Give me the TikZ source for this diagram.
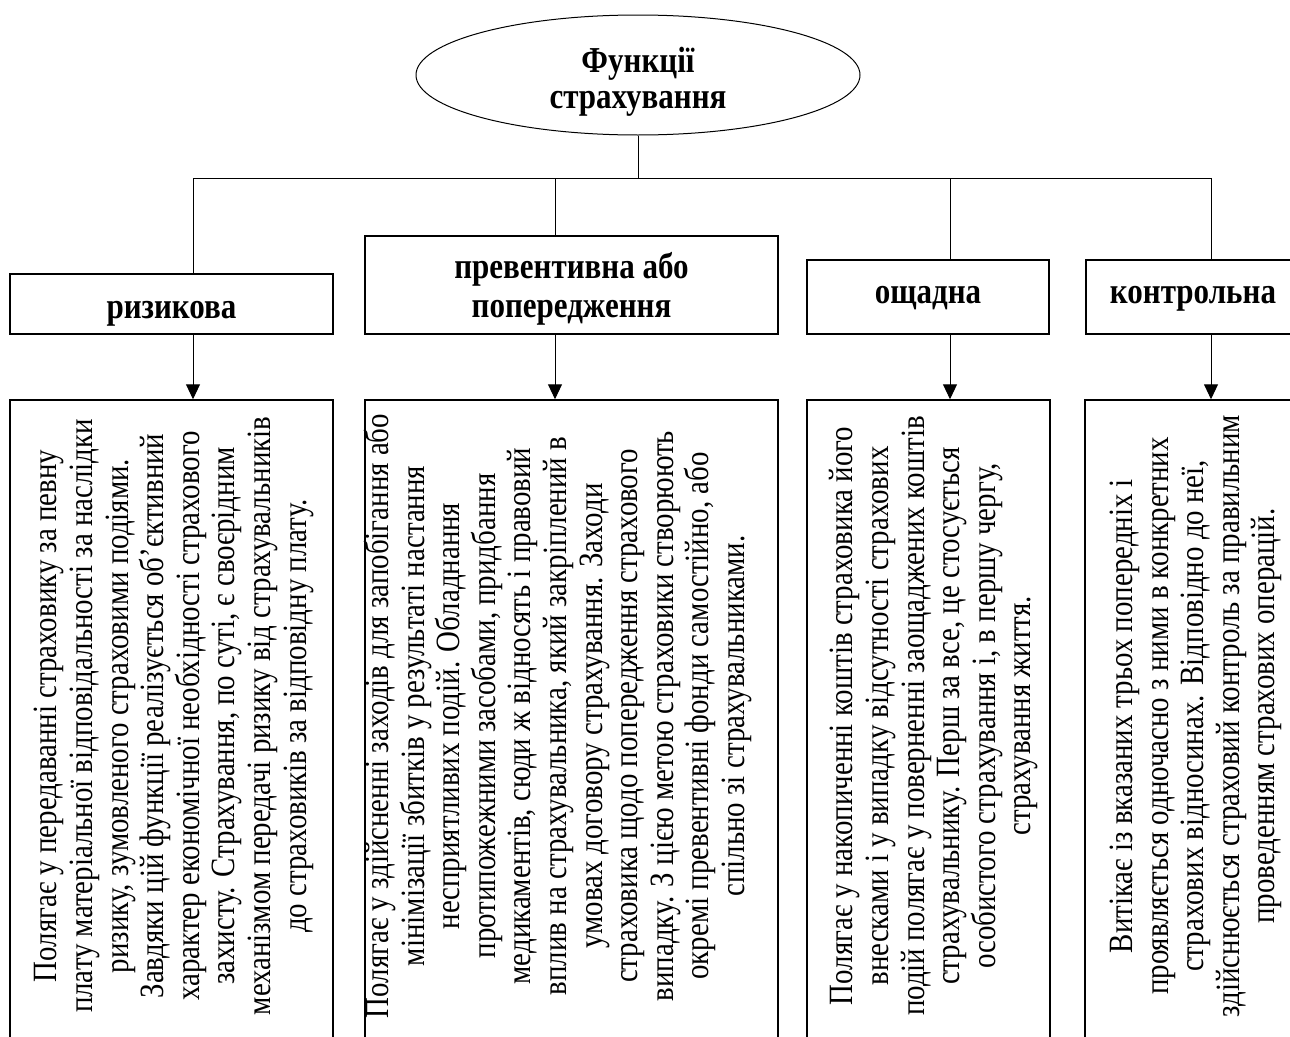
\documentclass[tikz,border=0pt]{standalone}
\usepackage{fontspec}
\setmainfont{Liberation Serif}[FakeStretch=0.85]
\usetikzlibrary{shapes.geometric,arrows.meta}
\tikzset{
  headbox/.style={draw, line width=1.5pt, inner sep=0pt},
  headtext/.style={anchor=base, inner sep=0pt, font=\fontsize{36.5}{38}\selectfont\bfseries},
  descbox/.style={draw, line width=1.5pt, inner sep=0pt},
  desctext/.style={rotate=90, align=flush center, inner sep=0pt, text width=660pt,
    font=\fontsize{34}{35.6}\selectfont},
  conn/.style={line width=1pt},
  arr/.style={line width=1pt, -{Triangle[width=14pt,length=15pt]}}
}
\begin{document}
\begin{tikzpicture}[x=1pt,y=-1pt]
\useasboundingbox (0,0) rectangle (1290,1036);
\clip (0,0) rectangle (1290,1036);
\fill[white] (0,0) rectangle (1290,1036);

\node[ellipse, draw, line width=1pt, minimum width=444pt, minimum height=120pt, inner sep=0pt] (top) at (638,75) {};
\node[headtext] (topa) at (638,72) {Функції};
\node[headtext] (topb) at (638,108) {страхування};

\node[headbox, minimum width=323pt, minimum height=60pt] (h1) at (171.5,304) {};
\node[headtext] (h1t) at (171.5,318) {ризикова};
\node[headbox, minimum width=413pt, minimum height=98pt] (h2) at (571.5,285) {};
\node[headtext] (h2a) at (571.5,278) {превентивна або};
\node[headtext] (h2b) at (571.5,317) {попередження};
\node[headbox, minimum width=242pt, minimum height=74pt] (h3) at (928,297) {};
\node[headtext] (h3t) at (928,303) {ощадна};
\node[headbox, minimum width=214pt, minimum height=74pt] (h4) at (1193,297) {};
\node[headtext] (h4t) at (1193,303) {контрольна};

\node[descbox, minimum width=323pt, minimum height=650pt] (t1) at (171.5,725) {};
\node[descbox, minimum width=413pt, minimum height=650pt] (t2) at (571.5,725) {};
\node[descbox, minimum width=243pt, minimum height=650pt] (t3) at (928.5,725) {};
\node[descbox, minimum width=236pt, minimum height=650pt] (t4) at (1203,725) {};

\node[desctext] (d1) at (174,716) {Полягає у передаванні страховику за певну\\
плату матеріальної відповідальності за наслідки\\
ризику, зумовленого страховими подіями.\\
Завдяки цій функції реалізується об’єктивний\\
характер економічної необхідності страхового\\
захисту. Страхування, по суті, є своєрідним\\
механізмом передачі ризику від страхувальників\\
до страховиків за відповідну плату.};

\node[desctext] (d2) at (558,716) {Полягає у здійсненні заходів для запобігання або\\
мінімізації збитків у результаті настання\\
несприятливих подій. Обладнання\\
протипожежними засобами, придбання\\
медикаментів, сюди ж відносять і правовий\\
вплив на страхувальника, який закріплений в\\
умовах договору страхування. Заходи\\
страховика щодо попередження страхового\\
випадку. З цією метою страховики створюють\\
окремі превентивні фонди самостійно, або\\
спільно зі страхувальниками.};

\node[desctext] (d3) at (934,716) {Полягає у накопиченні коштів страховика його\\
внесками і у випадку відсутності страхових\\
подій полягає у поверненні заощаджених коштів\\
страхувальнику. Перш за все, це стосується\\
особистого страхування і, в першу чергу,\\
страхування життя.};

\node[desctext] (d4) at (1196,716) {Витікає із вказаних трьох попередніх і\\
проявляється одночасно з ними в конкретних\\
страхових відносинах. Відповідно до неї,\\
здійснюється страховий контроль за правильним\\
проведенням страхових операцій.};

\coordinate (bar) at (638,178);
\coordinate (b1) at (193,178);
\coordinate (b2) at (555,178);
\coordinate (b3) at (950,178);
\coordinate (b4) at (1211,178);

\draw[conn] (top.south) -- (bar);
\draw[conn] (b1) -- (b4);
\draw[conn] (b1) -- (h1.north -| b1);
\draw[conn] (b2) -- (h2.north -| b2);
\draw[conn] (b3) -- (h3.north -| b3);
\draw[conn] (b4) -- (h4.north -| b4);

\draw[arr] (h1.south -| b1) -- (t1.north -| b1);
\draw[arr] (h2.south -| b2) -- (t2.north -| b2);
\draw[arr] (h3.south -| b3) -- (t3.north -| b3);
\draw[arr] (h4.south -| b4) -- (t4.north -| b4);
\end{tikzpicture}
\end{document}
